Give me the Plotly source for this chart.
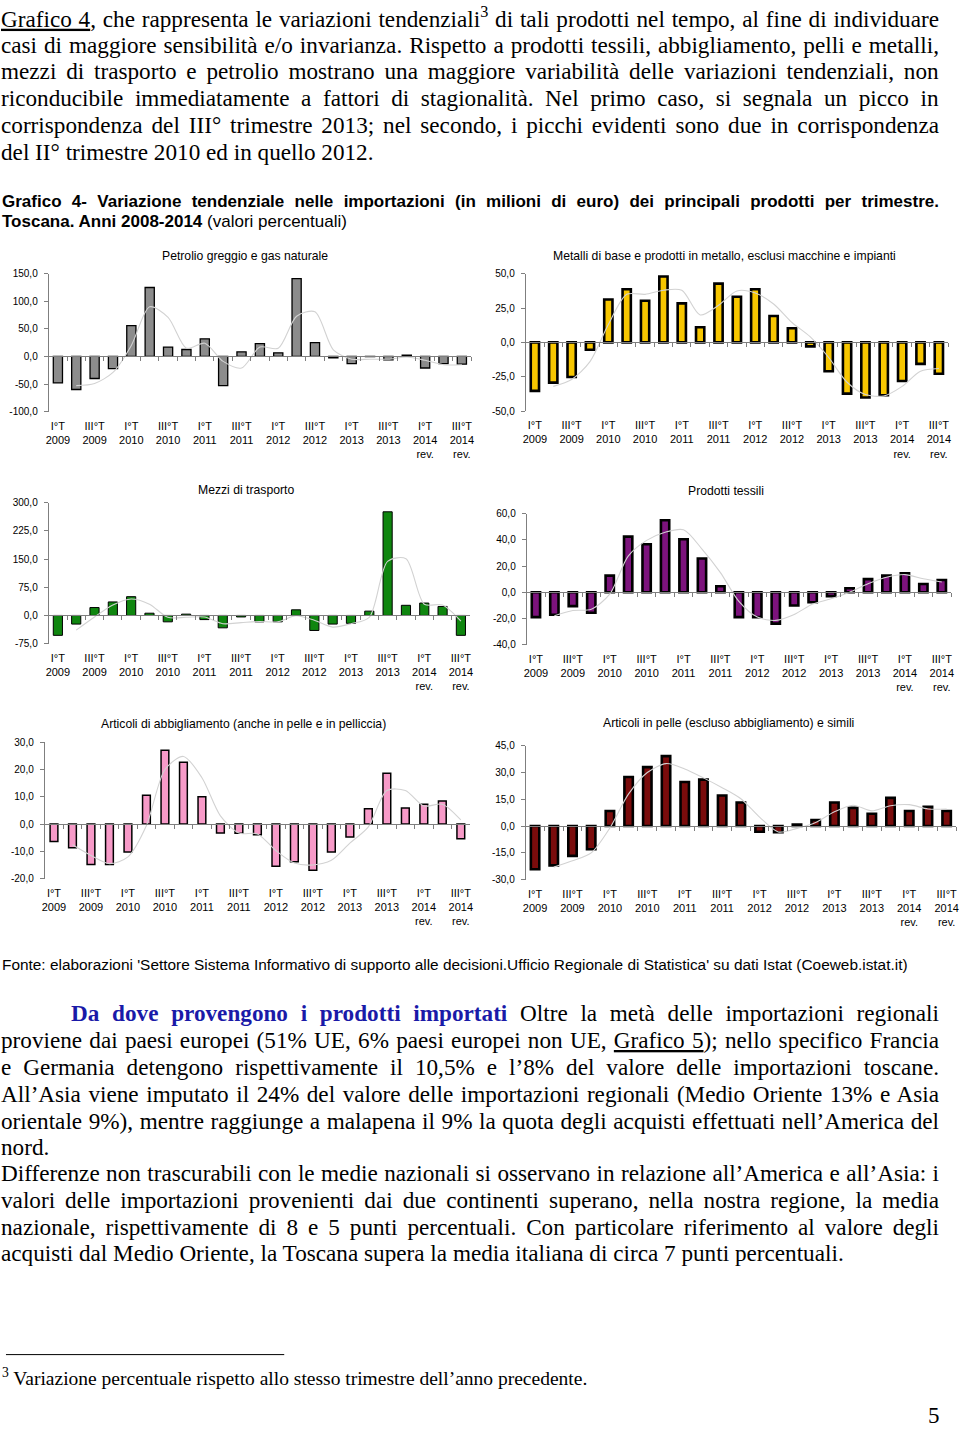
import json
import plotly.graph_objects as go

W, H = 960, 1431


def fx(px):
    return px / W


def fy(py):
    return 1 - py / H


# ---------------- data ----------------
quarters = [
    "I°T 2009", "II°T 2009", "III°T 2009", "IV°T 2009",
    "I°T 2010", "II°T 2010", "III°T 2010", "IV°T 2010",
    "I°T 2011", "II°T 2011", "III°T 2011", "IV°T 2011",
    "I°T 2012", "II°T 2012", "III°T 2012", "IV°T 2012",
    "I°T 2013", "II°T 2013", "III°T 2013", "IV°T 2013",
    "I°T 2014 rev.", "II°T 2014 rev.", "III°T 2014 rev.",
]
tick_quarters = quarters[::2]
tick_labels = [
    "I°T<br>2009", "III°T<br>2009", "I°T<br>2010", "III°T<br>2010",
    "I°T<br>2011", "III°T<br>2011", "I°T<br>2012", "III°T<br>2012",
    "I°T<br>2013", "III°T<br>2013", "I°T<br>2014<br>rev.", "III°T<br>2014<br>rev.",
]

petrolio = [-48, -60, -40, -22, 56, 125, 17, 12.6, 32, -53, 8.4, 23.4,
            6.6, 141, 25, -2.4, -13, -0.5, -6, 2.4, -21, -13, -14]
petrolio_trend = [None, -53, -49, -29, 20, 90, 71, 15, 24, -9, -21, 17,
                  15, 73, 81, 12, -5, -5, -5, -1, -7, -15, -15]
petrolio_yticks = [-100, -50, 0, 50, 100, 150]
petrolio_ylabels = ["-100,0", "-50,0", "0,0", "50,0", "100,0", "150,0"]

metalli = [-35.3, -29.3, -25.2, -5.3, 31.2, 38.7, 30.3, 48, 28.4, 11, 42.8, 33.2,
           38.7, 19.2, 10.3, -2.9, -21, -37.3, -40.1, -38.5, -28.1, -15.6, -22.8]
metalli_trend = [None, -32, -27, -14, 13, 35, 35, 38, 38, 20, 27, 37.5,
                 36, 28, 14.5, 4, -11, -29, -38, -39, -32, -21, -19]
metalli_yticks = [-50, -25, 0, 25, 50]
metalli_ylabels = ["-50,0", "-25,0", "0,0", "25,0", "50,0"]

mezzi = [-53, -23, 21, 36, 50, 6, -17, 3.5, -11, -33, -4, -17,
         -17, 15, -40, -23, -21, 11.5, 276, 27, 33, 24, -53]
mezzi_trend = [None, -39, -4, 28, 44, 30, -5, -5, -4, -22, -19, -16,
               -17, -1, -13, -31, -22, -5, 144, 151, 30, 28, -15]
mezzi_yticks = [-75, 0, 75, 150, 225, 300]
mezzi_ylabels = ["-75,0", "0,0", "75,0", "150,0", "225,0", "300,0"]

tessili = [-19, -17.2, -10.6, -15.7, 12.7, 42.5, 36.7, 55, 40.5, 25.8, 4.6, -19,
           -19, -24, -10.1, -7.6, -3, 3, 10, 12.7, 14.4, 6.3, 9.4]
tessili_trend = [None, -18, -14, -13, -1.5, 27.6, 39.6, 45.8, 47.7, 33, 15, -7,
                 -19, -21.5, -17, -9, -5, 0, 6.5, 11.4, 13.5, 10.3, 7.8]
tessili_yticks = [-40, -20, 0, 20, 40, 60]
tessili_ylabels = ["-40,0", "-20,0", "0,0", "20,0", "40,0", "60,0"]

abbigliamento = [-6.4, -8.7, -14.8, -14.8, -10.2, 10.6, 27.1, 22.7, 10, -3.3, -3.4, -3.9,
                 -15.5, -13.8, -16.9, -10.2, -4.7, 5.6, 18.6, 5.9, 7.3, 8.5, -5.4]
abbigliamento_trend = [None, -7.6, -11.5, -14.5, -12, -0.5, 20, 24.8, 17, 3, -3.3, -3.6,
                       -9.7, -14.3, -15, -13.3, -7, -1, 12.3, 12.3, 6.6, 7.3, 1.5]
abbigliamento_yticks = [-20, -10, 0, 10, 20, 30]
abbigliamento_ylabels = ["-20,0", "-10,0", "0,0", "10,0", "20,0", "30,0"]

pelle = [-24.2, -22, -16.7, -13, 8.4, 27.5, 33, 39.2, 24.7, 26, 17.1, 13.2,
         -3.2, -3.5, 0.9, 3.3, 13.2, 10.2, 6.9, 15.8, 8.4, 10.8, 8.4]
pelle_trend = [None, -23, -19.4, -15, -1, 18, 30, 35, 32, 27, 21.5, 15.3,
               5, -3.3, -1.3, 2, 8, 11.7, 8.5, 11.4, 12, 9.6, 9.6]
pelle_yticks = [-30, -15, 0, 15, 30, 45]
pelle_ylabels = ["-30,0", "-15,0", "0,0", "15,0", "30,0", "45,0"]

titles = [
    "Petrolio greggio e gas naturale",
    "Metalli di base e prodotti in metallo, esclusi macchine e impianti",
    "Mezzi di trasporto",
    "Prodotti tessili",
    "Articoli di abbigliamento (anche in pelle e in pelliccia)",
    "Articoli in pelle (escluso abbigliamento) e simili",
]

top_lines = [
    "<u>Grafico 4</u>, che rappresenta le variazioni tendenziali<sup>3</sup> di tali prodotti nel tempo, al fine di individuare",
    "casi di maggiore sensibilità e/o invarianza. Rispetto a prodotti tessili, abbigliamento, pelli e metalli,",
    "mezzi di trasporto e petrolio mostrano una maggiore variabilità delle variazioni tendenziali, non",
    "riconducibile immediatamente a fattori di stagionalità. Nel primo caso, si segnala un picco in",
    "corrispondenza del III° trimestre 2013; nel secondo, i picchi evidenti sono due in corrispondenza",
    "del II° trimestre 2010 ed in quello 2012.",
]
fig_title_lines = [
    "<b>Grafico 4- Variazione tendenziale nelle importazioni (in milioni di euro) dei principali prodotti per trimestre.</b>",
    "<b>Toscana. Anni 2008-2014</b> (valori percentuali)",
]
source_text = ("Fonte: elaborazioni 'Settore Sistema Informativo di supporto alle decisioni."
               "Ufficio Regionale di Statistica' su dati Istat (Coeweb.istat.it)")
bottom_lines = [
    "<span style='color:#1a1aa8'><b>Da dove provengono i prodotti importati</b></span> Oltre la metà delle importazioni regionali",
    "proviene dai paesi europei (51% UE, 6% paesi europei non UE, <u>Grafico 5</u>); nello specifico Francia",
    "e Germania detengono rispettivamente il 10,5% e l’8% del valore delle importazioni toscane.",
    "All’Asia viene imputato il 24% del valore delle importazioni regionali (Medio Oriente 13% e Asia",
    "orientale 9%), mentre raggiunge a malapena il 9% la quota degli acquisti effettuati nell’America del",
    "nord.",
    "Differenze non trascurabili con le medie nazionali si osservano in relazione all’America e all’Asia: i",
    "valori delle importazioni provenienti dai due continenti superano, nella nostra regione, la media",
    "nazionale, rispettivamente di 8 e 5 punti percentuali. Con particolare riferimento al valore degli",
    "acquisti dal Medio Oriente, la Toscana supera la media italiana di circa 7 punti percentuali.",
]
footnote_text = "<sup>3</sup> Variazione percentuale rispetto allo stesso trimestre dell’anno precedente."
page_number = "5"

# ---------------- chart specs (layout / style) ----------------
charts = [
    dict(values=petrolio, trend=petrolio_trend, tv=petrolio_yticks, tt=petrolio_ylabels,
         fill="#8c8c8c", lw=1.3, bw=0.5,
         yr=(-100, 150), xd=(46, 471), yd=(270, 409), tx=244, ty=252),
    dict(values=metalli, trend=metalli_trend, tv=metalli_yticks, tt=metalli_ylabels,
         fill="#f7c600", lw=2.6, bw=0.45,
         yr=(-50, 50), xd=(526, 951), yd=(270, 408.5), tx=726, ty=252),
    dict(values=mezzi, trend=mezzi_trend, tv=mezzi_yticks, tt=mezzi_ylabels,
         fill="#0f860f", lw=1.0, bw=0.5,
         yr=(-75, 300), xd=(46, 470), yd=(501, 643), tx=245, ty=488),
    dict(values=tessili, trend=tessili_trend, tv=tessili_yticks, tt=tessili_ylabels,
         fill="#7c137c", lw=2.6, bw=0.45,
         yr=(-40, 60), xd=(527, 954), yd=(512, 644), tx=728, ty=489),
    dict(values=abbigliamento, trend=abbigliamento_trend, tv=abbigliamento_yticks,
         tt=abbigliamento_ylabels, fill="#f79ac8", lw=1.5, bw=0.42,
         yr=(-20, 30), xd=(42, 470), yd=(742.5, 880), tx=242, ty=724),
    dict(values=pelle, trend=pelle_trend, tv=pelle_yticks, tt=pelle_ylabels,
         fill="#7a0c0c", lw=2.6, bw=0.45,
         yr=(-30, 45), xd=(526, 959), yd=(746, 881), tx=730, ty=723),
]

SANS = "Liberation Sans, Arial, sans-serif"
SERIF = "Liberation Serif, Times New Roman, serif"

fig = go.Figure()
layout = dict(
    width=W, height=H, margin=dict(l=0, r=0, t=0, b=0),
    paper_bgcolor="white", plot_bgcolor="rgba(0,0,0,0)",
    showlegend=False,
    annotations=[], shapes=[],
)

n = len(charts)
for i, c in enumerate(charts, start=1):
    xa = "x" if i == 1 else f"x{i}"
    ya = "y" if i == 1 else f"y{i}"
    xo = f"x{i + n}"
    fig.add_trace(go.Bar(
        x=quarters, y=c["values"], xaxis=xa, yaxis=ya, width=c["bw"],
        marker=dict(color=c["fill"], line=dict(color="black", width=c["lw"])),
        hoverinfo="skip",
    ))
    fig.add_trace(go.Scatter(
        x=quarters, y=c["trend"], xaxis=xo, yaxis=ya, mode="lines",
        line=dict(color="#d2d2d2", width=1.1, shape="spline", smoothing=0.8),
        connectgaps=False, hoverinfo="skip",
    ))
    xd = [fx(c["xd"][0]), fx(c["xd"][1])]
    yd = [fy(c["yd"][1]), fy(c["yd"][0])]
    y0, y1 = c["yr"]
    zero_pos = yd[0] + (0 - y0) / (y1 - y0) * (yd[1] - yd[0])
    layout[f"xaxis{'' if i == 1 else i}"] = dict(
        domain=xd, anchor=ya, type="category", range=[-0.5, len(quarters) - 0.5],
        showline=False, showgrid=False, zeroline=False, ticks="",
        tickmode="array", tickvals=tick_quarters, ticktext=tick_labels,
        tickangle=0, ticklabelstandoff=6,
        tickfont=dict(family=SANS, size=11, color="black"),
    )
    layout[f"xaxis{i + n}"] = dict(
        overlaying=xa, anchor="free", position=zero_pos, type="category",
        range=[-0.5, len(quarters) - 0.5], showgrid=False, zeroline=False,
        showline=True, linecolor="#7f7f7f", linewidth=1,
        ticks="outside", tickson="boundaries", ticklen=4, tickcolor="#7f7f7f",
        showticklabels=False,
    )
    layout[f"yaxis{'' if i == 1 else i}"] = dict(
        domain=yd, anchor=xa, range=[y0, y1],
        tickmode="array", tickvals=c["tv"], ticktext=c["tt"],
        showline=True, linecolor="#7f7f7f", linewidth=1,
        ticks="outside", ticklen=4, tickcolor="#7f7f7f", showgrid=False,
        zeroline=False, ticklabelstandoff=4,
        tickfont=dict(family=SANS, size=10, color="black"),
    )
    layout["annotations"].append(dict(
        text=titles[i - 1], x=fx(c["tx"]), y=fy(c["ty"]), xref="paper", yref="paper",
        xanchor="center", yanchor="middle", showarrow=False,
        font=dict(family=SANS, size=12.2, color="black"),
    ))

justify = []  # [annotation index, right edge px]
XOFF = -5  # annotation boxes render text slightly to the right of their anchor


def add_text(text, xpx, ypx, family, size, just=False, anchor="left"):
    layout["annotations"].append(dict(
        text=text, x=fx(xpx + (XOFF if anchor == "left" else 0)), y=fy(ypx),
        xref="paper", yref="paper",
        xanchor=anchor, yanchor="middle", align="left", showarrow=False,
        borderpad=0, font=dict(family=family, size=size, color="black"),
    ))
    if just:
        justify.append([len(layout["annotations"]) - 1, 939])


top_y = [12, 39, 66, 93, 120, 147]
for k, (t, yy) in enumerate(zip(top_lines, top_y)):
    add_text(t, 2, yy, SERIF, 23.2, just=k < 5)

add_text(fig_title_lines[0], 3, 197, SANS, 17, just=True)
add_text(fig_title_lines[1], 3, 217, SANS, 17)
add_text(source_text, 3, 967, SANS, 15.4)

bottom_y = [1016, 1043, 1070, 1097, 1124, 1151, 1177, 1204, 1231, 1258]
for k, (t, yy) in enumerate(zip(bottom_lines, bottom_y)):
    add_text(t, 72 if k == 0 else 2, yy, SERIF, 23.2, just=k not in (5, 9))

add_text(footnote_text, 3, 1383, SERIF, 19.5)
add_text(page_number, 937, 1421, SERIF, 23, anchor="center")

layout["shapes"].append(dict(type="line", xref="paper", yref="paper",
                             x0=fx(3), x1=fx(283), y0=fy(1360), y1=fy(1360),
                             line=dict(color="black", width=1)))

fig.update_layout(**layout)

post = """
document.body.style.margin = '0';
var J = %s;
J.forEach(function(p){
  var g = document.querySelector('g.annotation[data-index="' + p[0] + '"]');
  if(!g) return;
  var t = g.querySelector('text.annotation-text');
  if(!t) return;
  var r = t.getBoundingClientRect();
  var n = (t.textContent.match(/ /g) || []).length;
  if(n > 0){ t.style.wordSpacing = ((p[1] - r.right) / n) + 'px'; }
});
""" % json.dumps(justify)

fig.write_html("out.html", post_script=post, config={"displayModeBar": False})
